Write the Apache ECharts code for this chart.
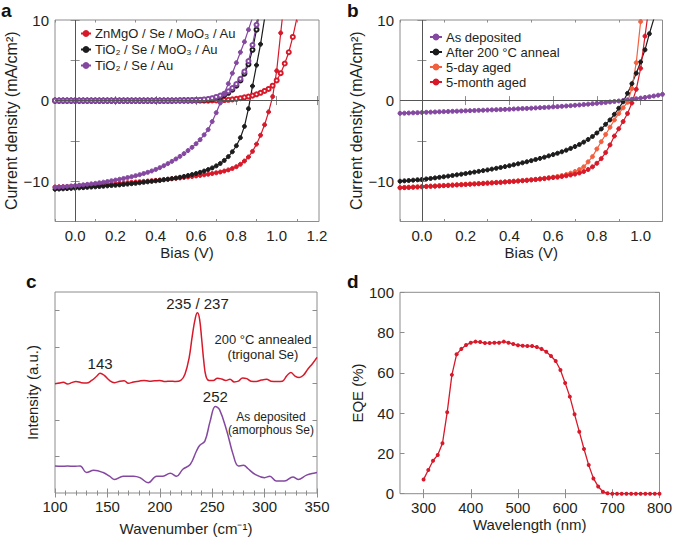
<!DOCTYPE html>
<html>
<head>
<meta charset="UTF-8">
<script src="https://cdn.jsdelivr.net/npm/echarts@6/dist/echarts.min.js"></script>
<style>
html, body { margin: 0; padding: 0; background: #fff; }
#main { width: 675px; height: 537px; }
</style>
</head>
<body>
<div id="main"></div>
<script type="text/javascript">
// bias grid shared by panels a and b (V)
var bias = [-0.10,-0.08,-0.06,-0.04,-0.02,0.00,0.02,0.04,0.06,0.08,0.10,0.12,0.14,0.16,0.18,0.20,0.22,0.24,0.26,0.28,
  0.30,0.32,0.34,0.36,0.38,0.40,0.42,0.44,0.46,0.48,0.50,0.52,0.54,0.56,0.58,0.60,0.62,0.64,0.66,0.68,
  0.70,0.72,0.74,0.76,0.78,0.80,0.82,0.84,0.86,0.88,0.90,0.92,0.94,0.96,0.98,1.00,1.02,1.04,1.06,1.08,1.10];

// panel a - light J-V (mA/cm2)
var znmgoLight = [-10.72,-10.70,-10.68,-10.66,-10.63,-10.60,-10.57,-10.54,-10.51,-10.48,-10.45,-10.42,-10.39,-10.36,-10.33,-10.30,-10.26,-10.22,-10.18,-10.14,
  -10.10,-10.06,-10.02,-9.98,-9.94,-9.90,-9.85,-9.80,-9.75,-9.70,-9.65,-9.60,-9.54,-9.48,-9.42,-9.35,-9.28,-9.21,-9.13,-9.05,
  -8.96,-8.86,-8.74,-8.60,-8.42,-8.20,-7.90,-7.50,-7.00,-6.30,-5.40,-4.30,-3.00,-1.40,0.50,3.70,8.40,13.0];
var tio2MoLight = [-11.00,-10.98,-10.95,-10.92,-10.89,-10.86,-10.83,-10.80,-10.76,-10.73,-10.70,-10.66,-10.62,-10.58,-10.54,-10.50,-10.46,-10.41,-10.36,-10.31,
  -10.26,-10.20,-10.14,-10.08,-10.02,-9.96,-9.90,-9.83,-9.76,-9.68,-9.60,-9.51,-9.41,-9.30,-9.18,-9.05,-8.90,-8.74,-8.56,-8.35,
  -8.10,-7.80,-7.42,-6.95,-6.35,-5.60,-4.60,-3.20,-1.00,1.80,4.40,7.00,10.2,13.5];
var tio2AuLight = [-10.75,-10.72,-10.68,-10.64,-10.60,-10.55,-10.50,-10.45,-10.39,-10.33,-10.27,-10.20,-10.12,-10.04,-9.95,-9.86,-9.76,-9.66,-9.55,-9.44,
  -9.32,-9.19,-9.05,-8.90,-8.73,-8.54,-8.32,-8.08,-7.82,-7.54,-7.24,-6.92,-6.58,-6.20,-5.80,-5.35,-4.85,-4.25,-3.60,-2.60,
  -1.50,-0.30,0.90,2.10,3.40,4.70,6.00,7.30,8.80,10.3,11.8];
// panel a - dark J-V
var znmgoDark = [0,0,0,0,0,0,0,0,0,0,0,0,0,0,0,0,0,0,0,0,
  0,0,0,0,0,0,0,0,0,0,0,0,0,0,0,0,0,0,0,0.01,
  0.02,0.04,0.07,0.10,0.15,0.22,0.30,0.40,0.50,0.62,0.78,0.97,1.20,1.45,1.85,2.50,3.40,4.60,6.00,7.90,10.2];
var tio2MoDark = [0,0,0,0,0,0,0,0,0,0,0,0,0,0,0,0,0,0,0,0,
  0,0,0,0,0,0,0,0,0,0,0.01,0.02,0.03,0.03,0.04,0.05,0.07,0.10,0.15,0.22,
  0.32,0.47,0.68,0.97,1.35,1.85,2.50,3.35,4.50,6.30,8.80,12.0];
var tio2AuDark = [0,0,0,0,0,0,0,0,0,0,0,0,0,0,0,0,0,0,0,0,
  0,0,0,0,0,0,0,0,0,0,0.01,0.02,0.03,0.04,0.05,0.07,0.10,0.14,0.20,0.30,
  0.45,0.62,0.85,1.15,1.55,2.05,2.70,3.60,4.90,6.90,9.40,12.5];

// panel b - light J-V
var asDeposited = [-1.58,-1.56,-1.54,-1.52,-1.50,-1.47,-1.45,-1.43,-1.41,-1.39,-1.37,-1.35,-1.33,-1.31,-1.29,-1.27,-1.25,-1.23,-1.21,-1.19,
  -1.17,-1.15,-1.13,-1.11,-1.09,-1.07,-1.04,-1.02,-0.99,-0.97,-0.94,-0.91,-0.88,-0.85,-0.82,-0.78,-0.75,-0.71,-0.67,-0.63,
  -0.58,-0.54,-0.49,-0.44,-0.39,-0.34,-0.28,-0.23,-0.17,-0.11,-0.05,0.02,0.09,0.16,0.23,0.31,0.39,0.48,0.57,0.67,0.78];
var annealed = [-10.00,-9.96,-9.92,-9.87,-9.83,-9.78,-9.72,-9.66,-9.59,-9.52,-9.45,-9.37,-9.29,-9.21,-9.13,-9.05,-8.96,-8.87,-8.78,-8.69,
  -8.60,-8.50,-8.40,-8.30,-8.19,-8.08,-7.96,-7.84,-7.72,-7.59,-7.45,-7.31,-7.17,-7.02,-6.86,-6.70,-6.53,-6.35,-6.15,-5.93,
  -5.70,-5.44,-5.15,-4.82,-4.45,-4.02,-3.52,-2.94,-2.40,-1.70,-0.95,-0.15,0.90,2.10,3.40,4.80,6.30,8.30,10.1,12.0];
var dayAged = [-10.78,-10.76,-10.74,-10.71,-10.69,-10.66,-10.63,-10.60,-10.58,-10.55,-10.52,-10.49,-10.46,-10.43,-10.40,-10.37,-10.34,-10.31,-10.28,-10.25,
  -10.21,-10.18,-10.14,-10.11,-10.07,-10.03,-9.99,-9.95,-9.91,-9.86,-9.81,-9.76,-9.70,-9.64,-9.57,-9.50,-9.42,-9.30,-9.17,-9.00,
  -8.80,-8.55,-8.22,-7.60,-6.95,-6.00,-5.10,-4.20,-3.30,-2.40,-1.60,-0.90,-0.20,1.50,4.70,9.80,15.0];
var monthAged = [-10.82,-10.80,-10.78,-10.75,-10.73,-10.70,-10.67,-10.64,-10.62,-10.59,-10.56,-10.53,-10.50,-10.47,-10.44,-10.41,-10.38,-10.35,-10.32,-10.29,
  -10.25,-10.22,-10.18,-10.15,-10.11,-10.07,-10.03,-9.99,-9.95,-9.90,-9.85,-9.80,-9.74,-9.68,-9.61,-9.54,-9.50,-9.42,-9.33,-9.23,
  -9.12,-8.98,-8.80,-8.55,-8.22,-7.78,-7.20,-6.45,-5.50,-4.40,-3.50,-2.60,-1.60,-0.30,1.40,4.00,8.00,12.0];

// panel c - Raman spectra (a.u.)
var ramanAnnealedX = [100,104,108,112,116,120,125,130,135,140,143,147,152,157,162,166,170,175,180,185,190,195,200,205,210,215,220,224,228,231,
  234,236,238,240,242,244,247,251,255,259,263,267,271,275,279,283,287,292,297,302,306,312,317,321,325,329,333,337,341,346,350];
var ramanAnnealed = [2.99,3.01,3.03,2.98,3.02,3.05,3.02,3.01,3.08,3.20,3.28,3.22,3.08,3.02,3.06,3.07,3.00,3.04,3.06,3.08,3.06,3.07,3.08,3.05,3.06,3.05,3.08,3.25,3.70,4.30,
  4.80,4.93,4.75,4.20,3.60,3.20,3.08,3.08,3.14,3.12,3.08,3.11,3.04,3.06,3.15,3.13,3.06,3.05,3.09,3.11,3.06,3.05,3.06,3.20,3.30,3.20,3.16,3.22,3.38,3.55,3.71];
var ramanDepositedX = [100,106,112,118,124,130,137,146,152,157,165,175,181,189,197,203,210,216,222,229,235,238,243,248,253,257,264,270,275,280,284,291,300,305,311,319,327,332,340,348,350];
var ramanDeposited = [0.74,0.73,0.74,0.73,0.74,0.56,0.62,0.56,0.46,0.37,0.46,0.46,0.42,0.28,0.46,0.46,0.54,0.46,0.65,0.78,1.15,1.30,1.42,1.96,2.37,2.28,1.69,1.05,0.74,0.76,0.67,0.51,0.42,0.46,0.33,0.33,0.44,0.37,0.49,0.55,0.56];

// panel d - EQE (%)
var wavelength = [300,310,320,330,340,350,360,370,380,390,400,410,420,430,440,450,460,470,480,490,500,510,520,530,540,550,560,570,580,590,
  600,610,620,630,640,650,660,670,680,690,700,710,720,730,740,750,760,770,780,790,800];
var eqe = [7.1,11.8,16.4,19.2,25.0,40.4,59.0,69.2,71.9,73.8,75.0,75.5,75.3,74.8,74.8,75.0,75.0,75.5,75.0,74.3,73.7,73.5,73.3,73.3,72.8,71.9,70.5,68.4,65.9,61.4,
  55.0,48.2,39.4,30.8,22.2,14.2,7.6,3.6,1.0,0.2,0,0,0,0,0,0,0,0,0,0,0];

// tick values
var aXMajor = [0,0.2,0.4,0.6,0.8,1.0,1.2];
var aXMinor = [-0.1,0.1,0.3,0.5,0.7,0.9,1.1];
var bXMajor = [0,0.2,0.4,0.6,0.8,1.0];
var bXMinor = [-0.1,0.1,0.3,0.5,0.7,0.9,1.1];
var abYTicks = [-10,-5,0,5,10];
var abYLabels = [-10,0,10];
var cYTicks = [1,2,3,4,5];
var dXLabels = [300,400,500,600,700,800];

var RED = '#d7192a', BLACK = '#1c1c1c', PURPLE = '#8448a0', ORANGE = '#f2603f';
var FRAME = '#8c8c8c', TXT = '#231f20';
var FONT = '"Liberation Sans", Arial, sans-serif';

function pairs(xs, ys) {
  var out = [];
  for (var i = 0; i < ys.length; i++) out.push([xs[i], ys[i]]);
  return out;
}
function minus(v) {
  return v < 0 ? '\u2212' + Math.abs(v) : String(v);
}
function oneDec(v) {
  return (Math.round(v * 10) / 10).toFixed(1);
}

// svg renderer this time
var myChart = echarts.init(document.getElementById('main'), null, {renderer: 'svg'});

var grids = [
  {left: 55, top: 20, width: 264, height: 201.5},
  {left: 400, top: 20, width: 262.5, height: 201.5},
  {left: 55, top: 292, width: 262, height: 201.7},
  {left: 400, top: 292.3, width: 262, height: 201.4}
];
grids.forEach(function (g) {
  g.show = true; g.borderColor = FRAME; g.borderWidth = 1; g.containLabel = false;
});

var labelStyle = {fontSize: 15, color: TXT, fontFamily: FONT, margin: 6, showMinLabel: true, showMaxLabel: true, hideOverlap: false};
var nameStyle = {fontSize: 15, color: TXT, fontFamily: FONT};

// bottom + top axis of one panel; top one only mirrors the ticks
function xAxisPair(gi, min, max, ticks, labels, fmt, name, nameGap, minor, interval) {
  var base = {
    gridIndex: gi, type: 'value', min: min, max: max, interval: interval,
    axisLine: {show: false}, splitLine: {show: false},
    axisTick: {inside: true, length: 4.5, lineStyle: {color: FRAME}},
    minorTick: minor ? {show: true, splitNumber: 5, length: 2.5, lineStyle: {color: FRAME}} : {show: false}
  };
  if (ticks) base.axisTick.customValues = ticks;
  var bottom = echarts.util.merge({
    position: 'bottom',
    axisLabel: echarts.util.extend({show: labels !== false, formatter: fmt}, labelStyle),
    name: name, nameLocation: 'middle', nameGap: nameGap, nameTextStyle: nameStyle
  }, echarts.util.clone(base), true);
  if (labels) bottom.axisLabel.customValues = labels;
  var top = echarts.util.merge({position: 'top', axisLabel: {show: false}}, echarts.util.clone(base), true);
  return [bottom, top];
}
// extra axes carrying the short in-between ticks
function minorXPair(gi, min, max, ticks) {
  return ['bottom', 'top'].map(function (p) {
    return {
      gridIndex: gi, type: 'value', min: min, max: max, position: p, offset: 0,
      axisLine: {show: false}, splitLine: {show: false}, axisLabel: {show: false},
      axisTick: {inside: true, length: 2.5, customValues: ticks, lineStyle: {color: FRAME}}
    };
  });
}
function yAxisPair(gi, min, max, ticks, labels, fmt, name, nameGap, showLabels, nameSize) {
  var base = {
    gridIndex: gi, type: 'value', min: min, max: max,
    axisLine: {show: false}, splitLine: {show: false},
    axisTick: {inside: true, length: 4.5, lineStyle: {color: FRAME}}
  };
  if (ticks) base.axisTick.customValues = ticks; else base.interval = 20;
  var left = echarts.util.merge({
    position: 'left',
    axisLabel: echarts.util.extend({show: showLabels, formatter: fmt}, labelStyle),
    name: name, nameLocation: 'middle', nameGap: nameGap,
    nameTextStyle: {fontSize: nameSize || 15, color: TXT, fontFamily: FONT}
  }, echarts.util.clone(base), true);
  if (labels) left.axisLabel.customValues = labels;
  var right = echarts.util.merge({position: 'right', axisLabel: {show: false}}, echarts.util.clone(base), true);
  return [left, right];
}

var xAxes = [].concat(
  xAxisPair(0, -0.1, 1.21, aXMajor, aXMajor, oneDec, 'Bias (V)', 23),
  xAxisPair(1, -0.1, 1.1, bXMajor, bXMajor, oneDec, 'Bias (V)', 23),
  xAxisPair(2, 100, 350, null, null, null, 'Wavenumber (cm\u207B\u00B9)', 28, true, 50),
  xAxisPair(3, 250, 800, dXLabels, dXLabels, null, 'Wavelength (nm)', 23),
  minorXPair(0, -0.1, 1.21, aXMinor),
  minorXPair(1, -0.1, 1.1, bXMinor)
);
var yAxes = [].concat(
  yAxisPair(0, -15, 10, abYTicks, abYLabels, minus, 'Current density (mA/cm\u00B2)', 30, true, 16),
  yAxisPair(1, -15, 10, abYTicks, abYLabels, minus, 'Current density (mA/cm\u00B2)', 30, true, 16),
  yAxisPair(2, 0, 5.5, cYTicks, null, null, 'Intensity (a.u.)', 15, false),
  yAxisPair(3, 0, 100, null, null, null, 'EQE (%)', 35, true)
);

function jvLine(name, xi, yi, data, color, symbol) {
  return {
    name: name, type: 'line', xAxisIndex: xi, yAxisIndex: yi, data: data,
    symbol: symbol || 'circle', symbolSize: 4, showSymbol: true,
    lineStyle: {color: color, width: 1.2}, itemStyle: {color: color, borderColor: color, borderWidth: 1},
    clip: true
  };
}
function zeroLines(s) {
  s.markLine = {
    silent: true, symbol: 'none', label: {show: false},
    lineStyle: {color: '#555', width: 1, type: 'solid'},
    data: [{yAxis: 0}, {xAxis: 0}]
  };
  return s;
}

var peakLabel = {show: true, fontSize: 15, color: TXT, fontFamily: FONT, position: 'top', distance: 2};

var series = [
  zeroLines(jvLine('ZnMgO dark', 0, 0, pairs(bias, znmgoDark), RED, 'emptyCircle')),
  jvLine('TiO2/MoO3 dark', 0, 0, pairs(bias, tio2MoDark), BLACK, 'emptyCircle'),
  jvLine('TiO2/Au dark', 0, 0, pairs(bias, tio2AuDark), PURPLE, 'emptyCircle'),
  jvLine('ZnMgO / Se / MoO\u2083 / Au', 0, 0, pairs(bias, znmgoLight), RED),
  jvLine('TiO\u2082 / Se / MoO\u2083 / Au', 0, 0, pairs(bias, tio2MoLight), BLACK),
  jvLine('TiO\u2082 / Se / Au', 0, 0, pairs(bias, tio2AuLight), PURPLE),

  zeroLines(jvLine('As deposited', 2, 2, pairs(bias, asDeposited), PURPLE)),
  jvLine('After 200 \u00B0C anneal', 2, 2, pairs(bias, annealed), BLACK),
  jvLine('5-day aged', 2, 2, pairs(bias, dayAged), ORANGE),
  jvLine('5-month aged', 2, 2, pairs(bias, monthAged), RED),

  {
    name: 'annealed Raman', type: 'line', xAxisIndex: 4, yAxisIndex: 4, smooth: 0.4, symbol: 'none',
    data: pairs(ramanAnnealedX, ramanAnnealed), lineStyle: {color: RED, width: 1.5},
    markPoint: {
      symbol: 'circle', symbolSize: 0, label: peakLabel,
      data: [
        {coord: [143, 3.28], value: '143'},
        {coord: [236, 4.93], value: '235 / 237'}
      ]
    }
  },
  {
    name: 'deposited Raman', type: 'line', xAxisIndex: 4, yAxisIndex: 4, smooth: 0.4, symbol: 'none',
    data: pairs(ramanDepositedX, ramanDeposited), lineStyle: {color: PURPLE, width: 1.5},
    markPoint: {
      symbol: 'circle', symbolSize: 0, label: peakLabel,
      data: [{coord: [253, 2.37], value: '252'}]
    }
  },

  {
    name: 'EQE', type: 'line', xAxisIndex: 6, yAxisIndex: 6, data: pairs(wavelength, eqe),
    symbol: 'circle', symbolSize: 4, lineStyle: {color: RED, width: 1.3}, itemStyle: {color: RED}
  }
];

function panelLabel(t, x, y) {
  return {type: 'text', x: x, y: y, style: {text: t, font: 'bold 19px ' + FONT, fill: '#111'}};
}
function note(t, x, y, size) {
  return {type: 'text', x: x, y: y, style: {text: t, font: size + 'px ' + FONT, fill: TXT, align: 'center', verticalAlign: 'middle'}};
}

var option = {
  animation: false,
  backgroundColor: '#fff',
  textStyle: {fontFamily: FONT},
  grid: grids,
  xAxis: xAxes,
  yAxis: yAxes,
  legend: [
    {
      data: ['ZnMgO / Se / MoO\u2083 / Au', 'TiO\u2082 / Se / MoO\u2083 / Au', 'TiO\u2082 / Se / Au'],
      orient: 'vertical', left: 80, top: 27, padding: 0, itemGap: 3, itemWidth: 10, itemHeight: 6,
      textStyle: {fontSize: 13, color: TXT, fontFamily: FONT, padding: [0, 0, 0, -1]}
    },
    {
      data: ['As deposited', 'After 200 \u00B0C anneal', '5-day aged', '5-month aged'],
      orient: 'vertical', left: 429, top: 29.5, padding: 0, itemGap: 0, itemWidth: 12, itemHeight: 6,
      textStyle: {fontSize: 13, color: TXT, fontFamily: FONT, padding: [0, 0, 0, -1], lineHeight: 15}
    }
  ],
  graphic: [
    panelLabel('a', 1, 1),
    panelLabel('b', 347, 1),
    panelLabel('c', 26, 272),
    panelLabel('d', 347, 272),
    note('200 \u00B0C annealed', 263, 339, 13),
    note('(trigonal Se)', 263, 354, 13),
    note('As deposited', 271, 417, 12),
    note('(amorphous Se)', 271, 430, 12)
  ],
  series: series
};

myChart.setOption(option);
</script>
</body>
</html>
